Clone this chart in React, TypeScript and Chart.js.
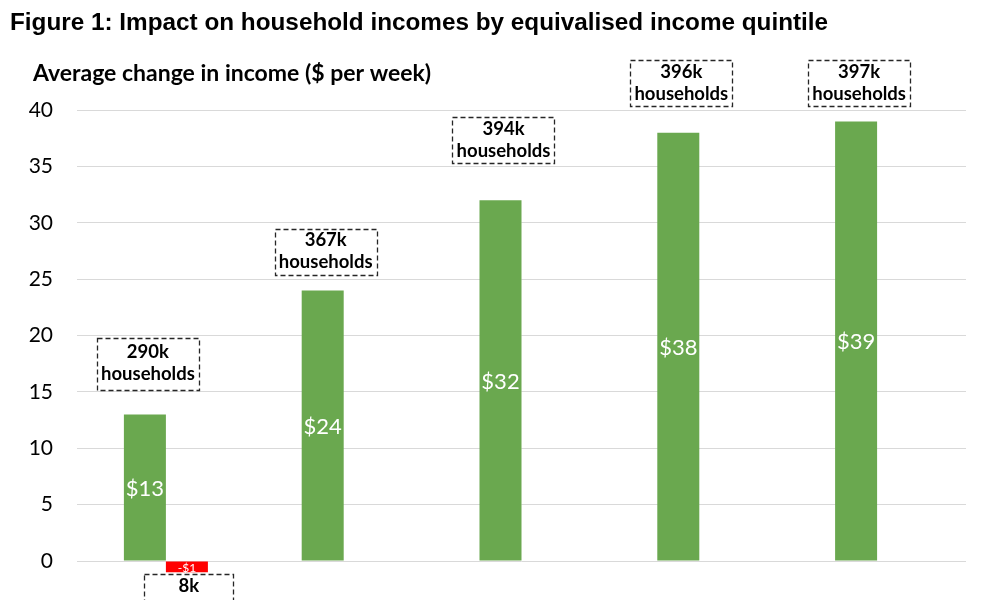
import React, { useEffect, useRef } from "react";
import { Chart, registerables } from "chart.js";

Chart.register(...registerables);

const categories = ["Quintile 1", "Quintile 2", "Quintile 3", "Quintile 4", "Quintile 5"];
const gainValues = [13, 24, 32, 38, 39];
const lossValues = [-1, null, null, null, null];
const gainHouseholds = ["290k", "367k", "394k", "396k", "397k"];
const lossHouseholds = ["8k", "", "", "", ""];
const yTicks = [0, 5, 10, 15, 20, 25, 30, 35, 40];

const titleText = "Figure 1: Impact on household incomes by equivalised income quintile";
const axisTitleText = "Average change in income ($ per week)";

// style: gap in px between bar top and its household box (manual placement as in the source)
const boxGaps = [25, 16, 37, 27, 15];
const boxHeights = [52, 46, 46, 46, 46];

const GREEN = "#6aa84f";
const RED = "#ff0000";

function money(v: number) {
  return v < 0 ? "-$" + Math.abs(v) : "$" + v;
}

function drawBox(ctx: CanvasRenderingContext2D, cx: number, top: number, w: number, h: number, lines: string[]) {
  ctx.save();
  ctx.fillStyle = "#ffffff";
  ctx.fillRect(cx - w / 2, top, w, h);
  ctx.setLineDash([5, 3]);
  ctx.strokeStyle = "#262626";
  ctx.lineWidth = 1.3;
  ctx.strokeRect(Math.round(cx - w / 2) + 0.5, Math.round(top) + 0.5, w, h);
  ctx.setLineDash([]);
  ctx.fillStyle = "#000000";
  ctx.font = "bold 18.5px Lato";
  ctx.textAlign = "center";
  ctx.textBaseline = "middle";
  const lh = 22;
  const startY = top + h / 2 - ((lines.length - 1) * lh) / 2;
  lines.forEach((l, i) => ctx.fillText(l, cx, startY + i * lh));
  ctx.restore();
}

const labelPlugin = {
  id: "barLabels",
  afterDatasetsDraw(chart: any) {
    const ctx = chart.ctx as CanvasRenderingContext2D;
    chart.data.datasets.forEach((ds: any, di: number) => {
      const meta = chart.getDatasetMeta(di);
      meta.data.forEach((bar: any, i: number) => {
        const v = ds.data[i];
        if (v == null) return;
        const { x, y, base } = bar.getProps(["x", "y", "base"], true);
        ctx.save();
        ctx.fillStyle = "#ffffff";
        ctx.textAlign = "center";
        ctx.textBaseline = "middle";
        ctx.font = di === 0 ? "22px Lato" : "12px Lato";
        ctx.fillText(money(v), x, (y + base) / 2 + 1);
        ctx.restore();
        const hh = di === 0 ? gainHouseholds[i] : lossHouseholds[i];
        if (!hh) return;
        if (v >= 0) {
          const h = boxHeights[i];
          drawBox(ctx, x + 3, y - boxGaps[i] - h, 102, h, [hh, "households"]);
        } else {
          drawBox(ctx, x + 2, y + 2, 89, 46, [hh, "households"]);
        }
      });
    });
  },
};

const axisTitlePlugin = {
  id: "axisTitleTop",
  afterDraw(chart: any) {
    const ctx = chart.ctx as CanvasRenderingContext2D;
    const area = chart.chartArea;
    ctx.save();
    ctx.fillStyle = "#000000";
    ctx.font = "bold 23px Lato";
    ctx.textAlign = "left";
    ctx.textBaseline = "alphabetic";
    ctx.fillText(axisTitleText, area.left - 44, area.top - 29);
    ctx.restore();
  },
};

export default function App() {
  const ref = useRef<HTMLCanvasElement | null>(null);
  useEffect(() => {
    if (!ref.current) return;
    const chart = new Chart(ref.current, {
      type: "bar",
      data: {
        labels: categories,
        datasets: [
          { label: "Gain", data: gainValues, backgroundColor: GREEN, categoryPercentage: 0.4725, barPercentage: 1 },
          { label: "Loss", data: lossValues as any, backgroundColor: RED, categoryPercentage: 0.4725, barPercentage: 1 },
        ],
      },
      options: {
        animation: false,
        responsive: true,
        maintainAspectRatio: false,
        layout: { padding: { left: 10, right: 17, top: 0, bottom: 0 } },
        plugins: {
          legend: { display: false },
          tooltip: { enabled: false },
          title: {
            display: true,
            text: titleText,
            align: "start",
            color: "#000000",
            font: { family: "Liberation Sans", size: 24.3, weight: "bold" },
            padding: { top: 9, bottom: 72 },
          },
        },
        scales: {
          x: { display: false, grid: { display: false } },
          y: {
            min: -5,
            max: 40,
            afterFit: (s: any) => {
              s.width = 67;
            },
            afterBuildTicks: (s: any) => {
              s.ticks = yTicks.map((v) => ({ value: v }));
            },
            border: { display: false },
            grid: { color: "#d9d9d9", lineWidth: 1, drawTicks: false },
            ticks: {
              padding: 24,
              color: "#000000",
              font: { family: "Lato", size: 21 },
            },
          },
        },
      },
      plugins: [labelPlugin, axisTitlePlugin],
    });
    return () => chart.destroy();
  }, []);
  return (
    <div style={{ position: "fixed", left: 0, top: 0, width: 983, height: 600, overflow: "hidden", background: "#fff" }}>
      <div style={{ position: "relative", width: 983, height: 654 }}>
        <canvas ref={ref} />
      </div>
    </div>
  );
}
